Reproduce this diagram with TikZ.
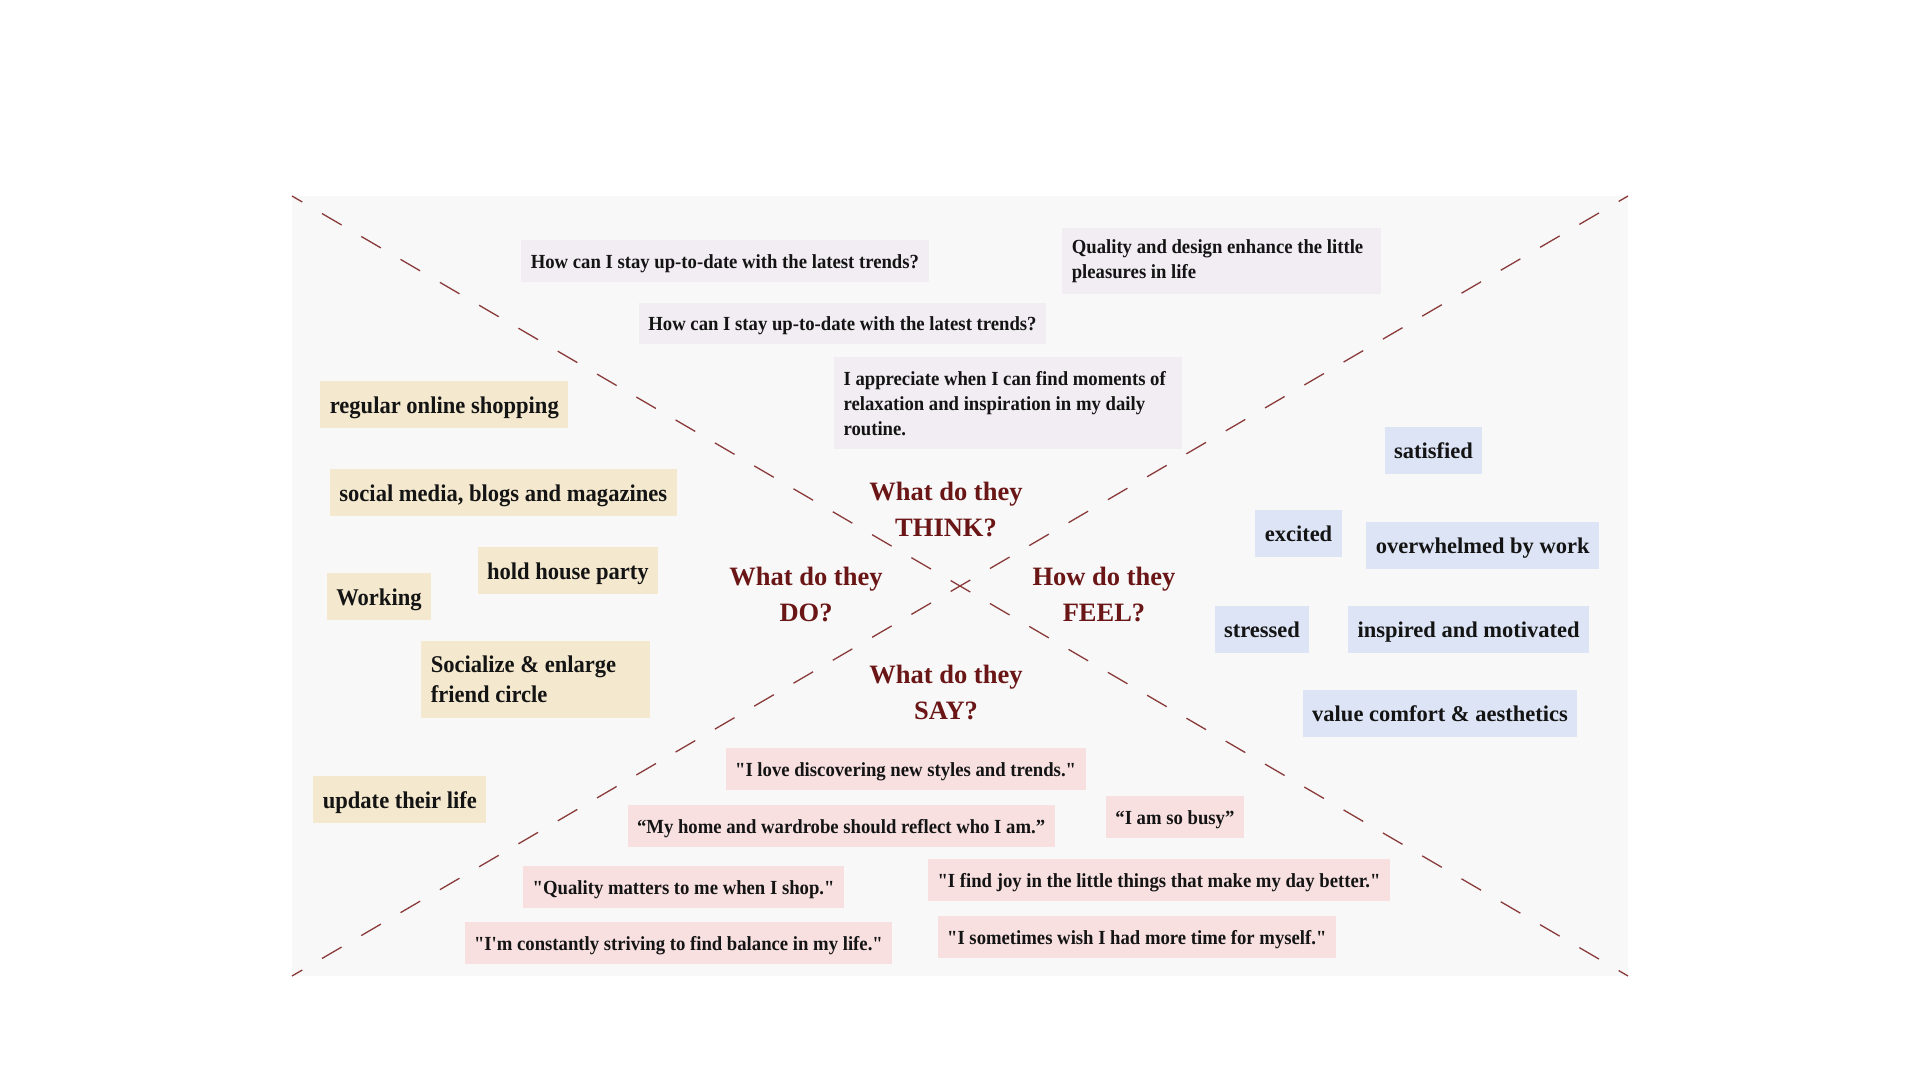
\documentclass[tikz,border=0pt]{standalone}
\usepackage{fontspec}
\setmainfont{Liberation Serif}
\newfontfamily\thinkfont[FakeStretch=0.935]{Liberation Serif}
\newfontfamily\dofont[FakeStretch=0.94]{Liberation Serif}
\usetikzlibrary{positioning}

\definecolor{panelgray}{HTML}{F8F8F8}
\definecolor{thinkbg}{HTML}{F1EDF2}
\definecolor{feelbg}{HTML}{DCE4F5}
\definecolor{dobg}{HTML}{F4E9CF}
\definecolor{saybg}{HTML}{F8E0E1}
\definecolor{maroon}{HTML}{6B1616}
\definecolor{dashred}{HTML}{8A3A3A}

\begin{document}
\begin{tikzpicture}[x=1pt, y=-1pt,
    card/.style={fill=#1, inner xsep=9.5pt, inner ysep=0pt, text=black!92},
    plainspace/.style={align=left, execute at begin node={\spaceskip=0pt\xspaceskip=0pt\hyphenpenalty=10000}},
    think/.style={card=thinkbg, font=\thinkfont\bfseries\fontsize{20}{25}\selectfont},
    thinkbox/.style={think, minimum height=41.6pt, text height=15pt, text depth=0pt},
    thinknote/.style={think, plainspace},
    saybox/.style={card=saybg, minimum height=42pt, text height=15pt, text depth=0pt,
        font=\thinkfont\bfseries\fontsize{20}{25}\selectfont},
    feelbox/.style={card=feelbg, minimum height=47pt, text height=16pt, text depth=0pt,
        font=\bfseries\fontsize{22.5}{28}\selectfont},
    dobox/.style={card=dobg, minimum height=47pt, text height=18pt, text depth=0pt,
        font=\dofont\bfseries\fontsize{24}{30}\selectfont},
    donote/.style={card=dobg, plainspace, font=\dofont\bfseries\fontsize{24}{30}\selectfont},
    question/.style={text=maroon, align=center, font=\bfseries\fontsize{26.5}{36}\selectfont},
    diag/.style={draw=dashred, line width=1.3pt, dash pattern=on 22.7pt off 22.8pt, dash phase=10.8pt}]
    \useasboundingbox (0,0) rectangle (1920,1080);

    % panel and the two diagonals
    \coordinate (NW) at (292,196);
    \coordinate (NE) at (1628,196);
    \coordinate (SW) at (292,976);
    \coordinate (SE) at (1628,976);
    \fill[panelgray] (NW) rectangle (SE);
    \draw[diag] (NW) -- (SE);
    \draw[diag] (SW) -- (NE);

    % questions
    \node[question] (QT) at (946,509.5) {What do they\\THINK?};
    \node[question] (QD) at (806,594.5) {What do they\\DO?};
    \node[question] (QF) at (1104,594.5) {How do they\\FEEL?};
    \node[question] (QS) at (946,692.5) {What do they\\SAY?};

    % think
    \node[thinkbox] (T1) at (724.9,260.8) {How can I stay up-to-date with the latest trends?};
    \node[thinkbox] (T2) at (842.5,323.3) {How can I stay up-to-date with the latest trends?};
    \node[thinknote, text width=299.4pt, minimum height=66.5pt] (T3) at (1221.5,261.2)
        {Quality and design enhance the little\\pleasures in life};
    \node[thinknote, text width=328.8pt, minimum height=91.8pt] (T4) at (1008,403.3)
        {I appreciate when I can find moments of\\relaxation and inspiration in my daily\\routine.};

    % feel
    \node[feelbox] (F1) at (1433.5,450.3) {satisfied};
    \node[feelbox] (F2) at (1298.5,533) {excited};
    \node[feelbox] (F3) at (1482.7,545.2) {overwhelmed by work};
    \node[feelbox] (F4) at (1262,629.8) {stressed};
    \node[feelbox, right = 38.3pt of F4] (F5) {inspired and motivated};
    \node[feelbox] (F6) at (1440,713.8) {value comfort \& aesthetics};

    % do
    \node[dobox] (D1) at (444.3,404.3) {regular online shopping};
    \node[dobox] (D2) at (503.3,492) {social media, blogs and magazines};
    \node[dobox] (D3) at (567.9,570.5) {hold house party};
    \node[dobox] (D4) at (379,596.7) {Working};
    \node[donote, text width=209.5pt, minimum height=76.7pt] (D5) at (535.5,679.3)
        {Socialize \& enlarge\\friend circle};
    \node[dobox] (D6) at (399.9,799.3) {update their life};

    % say
    \node[saybox] (S1) at (905.6,769) {"I love discovering new styles and trends."};
    \node[saybox] (S2) at (841.1,825.7) {“My home and wardrobe should reflect who I am.”};
    \node[saybox] (S3) at (1174.9,817) {“I am so busy”};
    \node[saybox] (S4) at (683.6,886.7) {"Quality matters to me when I shop."};
    \node[saybox] (S5) at (1159,880.3) {"I find joy in the little things that make my day better."};
    \node[saybox] (S6) at (678.4,942.5) {"I'm constantly striving to find balance in my life."};
    \node[saybox] (S7) at (1136.8,937) {"I sometimes wish I had more time for myself."};
\end{tikzpicture}
\end{document}
